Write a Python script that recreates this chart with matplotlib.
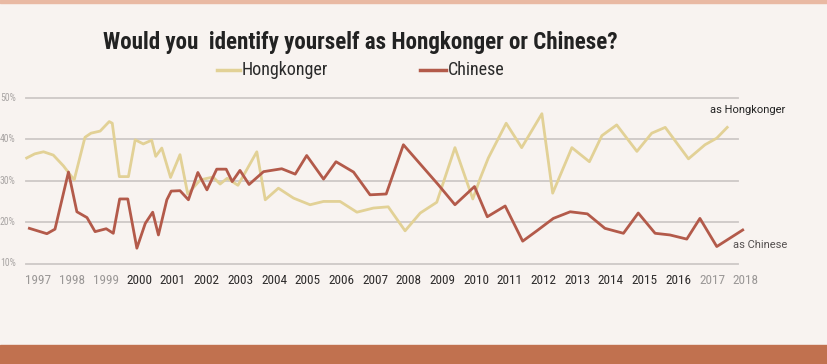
import matplotlib.pyplot as plt
import matplotlib.transforms as mtransforms
from matplotlib.patches import Rectangle
from matplotlib import font_manager

# Data (fractional years, percent)
hk_years = [1996.66, 1996.9, 1997.16, 1997.45, 1997.75, 1998.07, 1998.39, 1998.57, 1998.84,
            1999.11, 1999.2, 1999.41, 1999.68, 1999.88, 2000.12, 2000.37, 2000.49, 2000.67,
            2000.93, 2001.21, 2001.44, 2001.81, 2002.19, 2002.4, 2002.61, 2002.93, 2003.49,
            2003.74, 2004.13, 2004.58, 2005.07, 2005.47, 2005.96, 2006.46, 2006.95, 2007.39,
            2007.89, 2008.34, 2008.83, 2009.37, 2009.9, 2010.12, 2010.36, 2010.89, 2011.35,
            2011.95, 2012.27, 2012.84, 2013.36, 2013.73, 2014.17, 2014.77, 2015.21, 2015.61,
            2016.3, 2016.79, 2017.14, 2017.45]
hk_values = [35.5, 36.5, 37.0, 36.2, 33.6, 30.2, 40.5, 41.5, 42.0,
             44.3, 43.9, 31.0, 31.0, 39.9, 38.9, 39.8, 35.9, 37.9,
             30.8, 36.3, 26.8, 30.2, 30.9, 29.2, 30.6, 28.9, 37.0,
             25.4, 28.2, 25.8, 24.2, 25.0, 25.0, 22.4, 23.4, 23.7,
             17.9, 22.2, 24.8, 38.0, 25.6, 30.6, 35.5, 43.9, 38.0,
             46.2, 27.0, 38.0, 34.6, 40.9, 43.5, 37.1, 41.5, 42.9,
             35.3, 38.7, 40.3, 42.9]

cn_years = [1996.74, 1997.26, 1997.5, 1997.9, 1998.15, 1998.45, 1998.69, 1999.02, 1999.23,
            1999.42, 1999.66, 1999.93, 2000.18, 2000.4, 2000.57, 2000.82, 2000.95, 2001.21,
            2001.46, 2001.74, 2002.01, 2002.3, 2002.58, 2002.76, 2002.99, 2003.26, 2003.69,
            2004.23, 2004.63, 2004.97, 2005.47, 2005.84, 2006.36, 2006.85, 2007.33, 2007.84,
            2008.88, 2009.37, 2009.95, 2010.33, 2010.86, 2011.38, 2011.8, 2012.29, 2012.79,
            2013.3, 2013.82, 2014.37, 2014.81, 2015.31, 2015.75, 2016.25, 2016.64, 2017.14,
            2017.91]
cn_values = [18.5, 17.2, 18.3, 32.1, 22.5, 21.1, 17.7, 18.4, 17.3,
             25.6, 25.6, 13.7, 19.7, 22.4, 16.9, 25.4, 27.5, 27.6,
             25.4, 32.0, 27.8, 32.8, 32.8, 29.8, 32.5, 29.1, 32.2,
             32.9, 31.6, 36.1, 30.4, 34.6, 32.1, 26.6, 26.8, 38.7,
             29.0, 24.2, 28.6, 21.3, 23.9, 15.4, 17.9, 20.9, 22.5,
             22.0, 18.5, 17.3, 22.2, 17.3, 16.9, 15.9, 20.9, 14.1,
             18.1]

tick_years = list(range(1997, 2019))
faded_years = [1997, 1998, 1999, 2017, 2018]
grid_values = [10, 20, 30, 40, 50]

bg = '#f8f3f0'
hk_color = '#e2d196'
cn_color = '#b35a4a'

# pick a narrow family if one is around
installed = {f.name for f in font_manager.fontManager.ttflist}
narrow = [f for f in ['Roboto Condensed', 'Liberation Sans Narrow', 'Roboto']
          if f in installed] + ['DejaVu Sans']
plain = [f for f in ['Roboto', 'Liberation Sans'] if f in installed] + ['DejaVu Sans']

W, H = 828, 364
fig = plt.figure(figsize=(W / 100, H / 100), dpi=100, facecolor=bg)

# chart area in pixels: x 26..738, y 98..263.5 (from top)
ax = fig.add_axes([26 / W, (H - 263.5) / H, (738 - 26) / W, (263.5 - 98) / H])
ax.set_facecolor(bg)
ax.set_xlim(1996.64, 2017.77)
ax.set_ylim(10, 50)
for s in ax.spines.values():
    s.set_visible(False)
ax.set_xticks([])
ax.set_yticks([])

for g in grid_values:
    ax.axhline(g, color='#cdc8c6', lw=1.3, zorder=1, clip_on=False)

ax.plot(hk_years, hk_values, color=hk_color, lw=2.0, zorder=3, clip_on=False)
ax.plot(cn_years, cn_values, color=cn_color, lw=2.0, zorder=4, clip_on=False)

trans = mtransforms.blended_transform_factory(ax.transData, ax.transAxes)
for yr in tick_years:
    col = '#9a9796' if yr in faded_years else '#2e2c2c'
    ax.text(yr, -0.1, str(yr), transform=trans, ha='center', va='center',
            fontsize=9.5, color=col, family=narrow, clip_on=False)

ytrans = mtransforms.blended_transform_factory(fig.transFigure, ax.transData)
for g in grid_values:
    ax.text(0 / W, g, f'{g}%', transform=ytrans, ha='left', va='center',
            fontsize=7, color='#a9a5a4', family=narrow)

ax.text(2018.07, 47.2, 'as Hongkonger', ha='center', va='center', fontsize=8,
        color='#222222', family=plain, clip_on=False)
ax.text(2017.62, 14.5, 'as Chinese', ha='left', va='center', fontsize=8,
        color='#555050', family=plain, clip_on=False)

fig.text(103 / W, 1 - 42 / H, 'Would you  identify yourself as Hongkonger or Chinese?',
         ha='left', va='center', fontsize=16.6, fontweight='bold', color='#222222',
         family=narrow)

# legend
fig.add_artist(plt.Line2D([217 / W, 240 / W], [1 - 70 / H] * 2, color=hk_color, lw=2.5))
fig.text(242 / W, 1 - 70 / H, 'Hongkonger', ha='left', va='center', fontsize=13,
         color='#2a2a2a', family=narrow)
fig.add_artist(plt.Line2D([420 / W, 446 / W], [1 - 70 / H] * 2, color=cn_color, lw=2.5))
fig.text(448 / W, 1 - 70 / H, 'Chinese', ha='left', va='center', fontsize=13,
         color='#2a2a2a', family=narrow)

# frame bands
fig.add_artist(Rectangle((0, 0), 1, 19 / H, transform=fig.transFigure,
                         color='#c1714f', zorder=0))
fig.add_artist(Rectangle((0, 1 - 3 / H), 1, 3 / H, transform=fig.transFigure,
                         color='#e9b9a3', zorder=0))

fig.savefig('out.png', dpi=100, facecolor=bg)
